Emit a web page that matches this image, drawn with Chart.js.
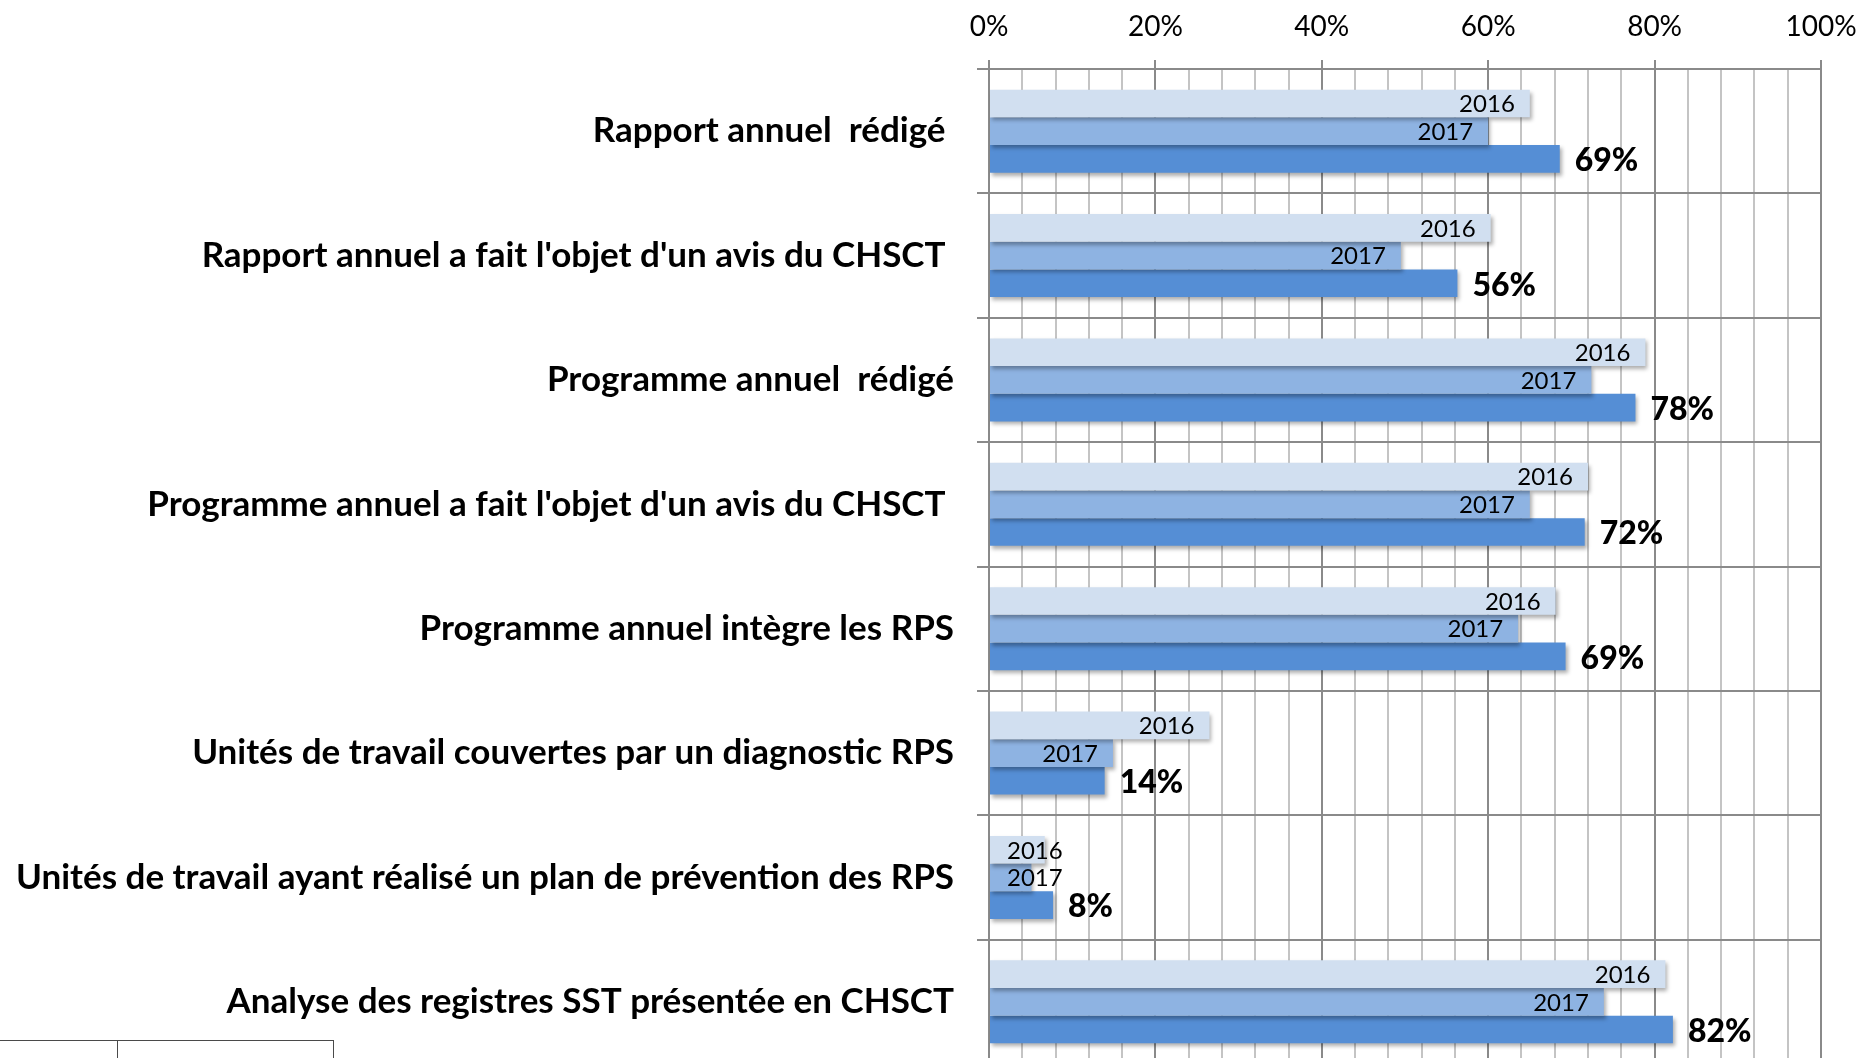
<!DOCTYPE html>
<html lang="fr">
<head>
<meta charset="utf-8">
<title>Rapport et programme annuels - CHSCT</title>
<script src="https://cdn.jsdelivr.net/npm/chart.js@4/dist/chart.umd.min.js"></script>
<style>
  html, body { margin: 0; padding: 0; background: #fff; overflow: hidden; }
  #wrap { position: relative; width: 1858px; height: 1066px; }
  #chart { display: block; }
  /* bout de tableau visible en bas a gauche */
  .cell-line { position: absolute; background: #4a4a4a; }
</style>
</head>
<body>
<div id="wrap">
  <canvas id="chart" width="1858" height="1066"></canvas>
  <div class="cell-line" style="left:0;top:1040px;width:334px;height:1px"></div>
  <div class="cell-line" style="left:117px;top:1040px;width:1px;height:30px"></div>
  <div class="cell-line" style="left:333px;top:1040px;width:1px;height:30px"></div>
</div>
<script>
// Donnees
const categories = [
  "Rapport annuel  rédigé ",
  "Rapport annuel a fait l'objet d'un avis du CHSCT ",
  "Programme annuel  rédigé",
  "Programme annuel a fait l'objet d'un avis du CHSCT ",
  "Programme annuel intègre les RPS",
  "Unités de travail couvertes par un diagnostic RPS",
  "Unités de travail ayant réalisé un plan de prévention des RPS",
  "Analyse des registres SST présentée en CHSCT"
];
const years = ["2016", "2017", "2018"];
const values2016 = [65, 60.3, 78.9, 72, 68.1, 26.5, 6.7, 81.3];
const values2017 = [60, 49.5, 72.4, 65, 63.6, 14.9, 5.1, 73.9];
const values2018 = [68.6, 56.3, 77.7, 71.6, 69.3, 13.9, 7.7, 82.2];
const xTicks = [0, 20, 40, 60, 80, 100];

const colors = ["#D1DFF0", "#8EB3E2", "#558ED5"];
const MAJOR = "#8a8a8a";
const MINOR = "#c4c4c4";
const FONT = "Lato, 'Open Sans', sans-serif";

// ombre portee sous les barres
const shadowPlugin = {
  id: "barShadow",
  beforeDatasetDraw(chart) {
    const ctx = chart.ctx;
    ctx.save();
    ctx.shadowColor = "rgba(0,0,0,0.32)";
    ctx.shadowBlur = 4;
    ctx.shadowOffsetX = 2;
    ctx.shadowOffsetY = 3;
  },
  afterDatasetDraw(chart) {
    chart.ctx.restore();
  }
};

// etiquettes : annee dans la barre, pourcentage apres la barre
const labelPlugin = {
  id: "barLabels",
  afterDatasetsDraw(chart) {
    const ctx = chart.ctx;
    ctx.save();
    ctx.fillStyle = "#000";
    ctx.textBaseline = "middle";
    ctx.textAlign = "left";
    chart.data.datasets.forEach((ds, i) => {
      const meta = chart.getDatasetMeta(i);
      meta.data.forEach((bar, j) => {
        if (i < 2) {
          ctx.font = "24px " + FONT;
          const txt = years[i];
          const w = ctx.measureText(txt).width;
          const x = Math.max(bar.x - 15 - w, bar.base + 17);
          ctx.fillText(txt, x, bar.y + 1);
        } else {
          ctx.font = "900 32px " + FONT;
          ctx.fillText(Math.round(ds.data[j]) + "%", bar.x + 15, bar.y + 2);
        }
      });
    });
    ctx.restore();
  }
};

new Chart(document.getElementById("chart"), {
  type: "bar",
  data: {
    labels: categories,
    datasets: [
      { label: years[0], data: values2016, backgroundColor: colors[0] },
      { label: years[1], data: values2017, backgroundColor: colors[1] },
      { label: years[2], data: values2018, backgroundColor: colors[2] }
    ]
  },
  options: {
    indexAxis: "y",
    responsive: false,
    animation: false,
    categoryPercentage: 0.667,
    barPercentage: 1,
    layout: { padding: { left: 0, top: 0, right: 37, bottom: 2 } },
    plugins: {
      legend: { display: false },
      tooltip: { enabled: false }
    },
    scales: {
      x: {
        position: "top",
        min: 0,
        max: 100,
        afterFit(scale) {
          scale.height = 69;
          scale.paddingLeft = 0;
          scale.paddingRight = 0;
        },
        afterBuildTicks(scale) {
          const t = [];
          for (let v = 0; v <= 100; v += 4) t.push({ value: v });
          scale.ticks = t;
        },
        ticks: {
          autoSkip: false,
          maxRotation: 0,
          padding: 16,
          color: "#000",
          font: { family: FONT, size: 28 },
          callback: v => xTicks.includes(v) ? v + "%" : ""
        },
        grid: {
          color: c => (c.tick && c.tick.value % 20 === 0) ? MAJOR : MINOR,
          tickColor: c => (c.tick && c.tick.value % 20 === 0) ? MAJOR : "rgba(0,0,0,0)",
          lineWidth: 2,
          tickLength: 9
        },
        border: { color: MAJOR, width: 2 }
      },
      y: {
        afterFit(scale) {
          scale.width = 989;
          scale.paddingTop = 0;
          scale.paddingBottom = 0;
        },
        ticks: {
          padding: 23,
          color: "#000",
          font: { family: FONT, size: 35, weight: "bold" }
        },
        grid: {
          offset: true,
          color: MAJOR,
          lineWidth: 2,
          tickLength: 12
        },
        border: { color: MAJOR, width: 2 }
      }
    }
  },
  plugins: [shadowPlugin, labelPlugin]
});
</script>
</body>
</html>
